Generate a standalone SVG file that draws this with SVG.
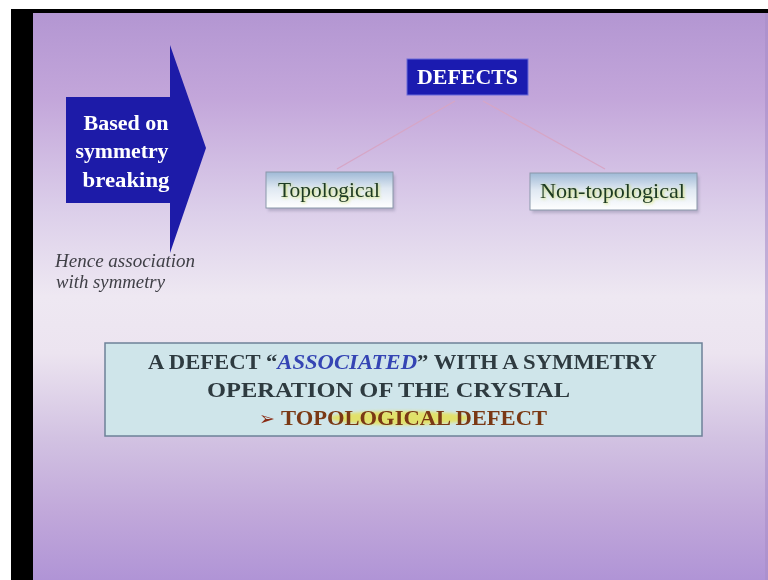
<svg xmlns="http://www.w3.org/2000/svg" width="768" height="580" viewBox="0 0 768 580">
  <defs>
    <linearGradient id="bg" x1="0" y1="13" x2="0" y2="580" gradientUnits="userSpaceOnUse">
      <stop offset="0" stop-color="#b396d2"/>
      <stop offset="0.15" stop-color="#c3a6da"/>
      <stop offset="0.35" stop-color="#dccfea"/>
      <stop offset="0.5" stop-color="#eee8f2"/>
      <stop offset="0.6" stop-color="#ece4f0"/>
      <stop offset="0.75" stop-color="#d2c2e2"/>
      <stop offset="0.88" stop-color="#c1a8da"/>
      <stop offset="1" stop-color="#b094d6"/>
    </linearGradient>
    <linearGradient id="leaf" x1="0" y1="0" x2="0" y2="1">
      <stop offset="0" stop-color="#9fb9d6"/>
      <stop offset="0.45" stop-color="#dfe8f2"/>
      <stop offset="1" stop-color="#ffffff"/>
    </linearGradient>
    <filter id="soft" x="-10%" y="-30%" width="120%" height="160%">
      <feGaussianBlur stdDeviation="0.6"/>
    </filter>
    <filter id="glow" x="-10%" y="-40%" width="120%" height="180%">
      <feGaussianBlur stdDeviation="1.4"/>
    </filter>
    <filter id="shade" x="-10%" y="-20%" width="120%" height="150%">
      <feGaussianBlur stdDeviation="1.5"/>
    </filter>
  </defs>
  <style>
    text { font-family: 'Liberation Serif', 'Times New Roman', Times, serif; }
    .bold { font-weight: bold; }
    .white { fill: #ffffff; }
    .leafText { font-size: 21px; fill: #1e3a22; }
    .leafGlow { font-size: 21px; fill: #c8dc3a; opacity: 0.75; }
    .boxText { font-size: 21px; font-weight: bold; fill: #2e3a40; }
    .link { stroke: #d6a6c6; stroke-width: 1.4; fill: none; }
  </style>

  <!-- screen frame and slide background -->
  <rect x="0" y="0" width="768" height="580" fill="#ffffff"/>
  <rect x="11" y="9" width="757" height="571" fill="#000000"/>
  <rect x="33" y="13" width="735" height="567" fill="url(#bg)"/>
  <rect x="765" y="13" width="3" height="567" fill="#a88ec8" opacity="0.6"/>

  <!-- connectors -->
  <g id="connectors">
    <line class="link" x1="455" y1="101" x2="337" y2="169"/>
    <line class="link" x1="483" y1="101" x2="605" y2="169"/>
  </g>

  <!-- block arrow -->
  <g id="arrow">
    <path d="M66,97 H170 V45 L206,148 L170,253 V203 H66 Z" fill="#1d1ba8"/>
    <g class="bold white" font-size="22" text-anchor="middle" filter="url(#soft)">
      <text x="126" y="130" textLength="85" lengthAdjust="spacingAndGlyphs">Based on</text>
      <text x="122" y="158" textLength="93" lengthAdjust="spacingAndGlyphs">symmetry</text>
      <text x="126" y="187" textLength="87" lengthAdjust="spacingAndGlyphs">breaking</text>
    </g>
  </g>

  <!-- side note -->
  <g id="note" font-style="italic" font-size="18" fill="#3f3f46" filter="url(#soft)">
    <text x="55" y="267" textLength="140" lengthAdjust="spacingAndGlyphs">Hence association</text>
    <text x="56" y="288" textLength="109" lengthAdjust="spacingAndGlyphs">with symmetry</text>
  </g>

  <!-- root node -->
  <g id="defects">
    <rect x="407" y="59" width="121" height="36" fill="#1b1bb0" stroke="#6b6bd8" stroke-width="1"/>
    <text class="bold white" x="467.5" y="84" font-size="21" text-anchor="middle" textLength="101" lengthAdjust="spacingAndGlyphs" filter="url(#soft)">DEFECTS</text>
  </g>

  <!-- leaf: Topological -->
  <g id="topological">
    <rect x="268" y="175" width="127" height="36" fill="#8e8aa6" opacity="0.5" filter="url(#shade)"/>
    <rect x="266" y="172" width="127" height="36" fill="url(#leaf)" stroke="#8a98aa" stroke-width="1"/>
    <text class="leafGlow" x="330" y="198" text-anchor="middle" textLength="102" lengthAdjust="spacingAndGlyphs" filter="url(#glow)">Topological</text>
    <text class="leafText" x="329" y="197" text-anchor="middle" textLength="102" lengthAdjust="spacingAndGlyphs" filter="url(#soft)">Topological</text>
  </g>

  <!-- leaf: Non-topological -->
  <g id="non-topological">
    <rect x="532" y="176" width="167" height="37" fill="#8e8aa6" opacity="0.5" filter="url(#shade)"/>
    <rect x="530" y="173" width="167" height="37" fill="url(#leaf)" stroke="#8a98aa" stroke-width="1"/>
    <text class="leafGlow" x="613.5" y="199" text-anchor="middle" textLength="145" lengthAdjust="spacingAndGlyphs" filter="url(#glow)">Non-topological</text>
    <text class="leafText" x="612.5" y="198" text-anchor="middle" textLength="145" lengthAdjust="spacingAndGlyphs" filter="url(#soft)">Non-topological</text>
  </g>

  <!-- statement box -->
  <g id="statement">
    <rect x="105" y="343" width="597" height="93" fill="#cfe5ea" stroke="#6d8198" stroke-width="1.5"/>
    <g filter="url(#soft)">
      <text class="boxText" x="148" y="369" textLength="509" lengthAdjust="spacingAndGlyphs">A DEFECT “<tspan fill="#3444b4" font-style="italic">ASSOCIATED</tspan>” WITH A SYMMETRY</text>
      <text class="boxText" x="207" y="397" textLength="363" lengthAdjust="spacingAndGlyphs">OPERATION OF THE CRYSTAL</text>
    </g>
    <ellipse cx="400" cy="418" rx="70" ry="7" fill="#e8e040" opacity="0.75" filter="url(#glow)"/>
    <g filter="url(#soft)">
      <text x="259" y="425" font-size="19" fill="#8a2a14">➢</text>
      <text x="281" y="425" font-size="21" font-weight="bold" fill="#7a3812" textLength="266" lengthAdjust="spacingAndGlyphs">TOPOLOGICAL DEFECT</text>
    </g>
  </g>
</svg>
